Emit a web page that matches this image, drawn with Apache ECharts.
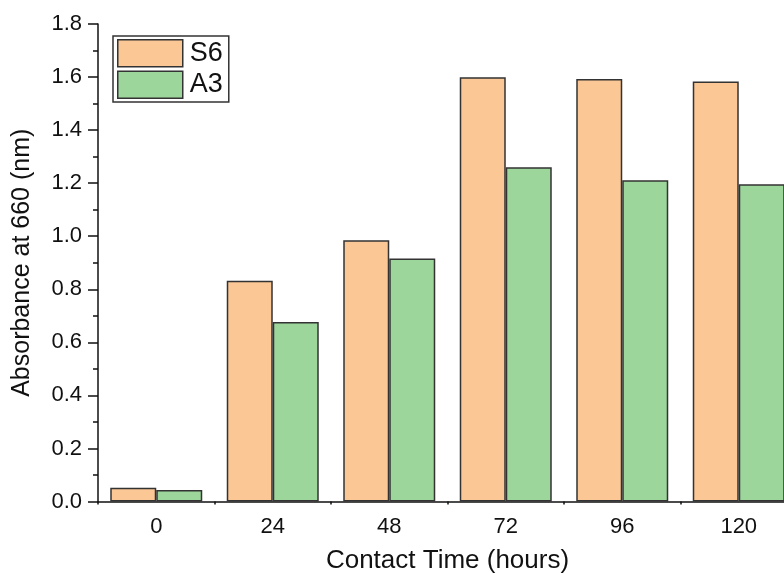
<!DOCTYPE html>
<html><head><meta charset="utf-8">
<script src="https://cdn.jsdelivr.net/npm/echarts@6/dist/echarts.min.js"></script>
<style>html,body{margin:0;padding:0;background:#fff}#c{width:784px;height:573px}</style>
</head><body><div id="c"></div>
<script>
var categories = ['0', '24', '48', '72', '96', '120'];
var s6Values = [0.052, 0.832, 0.985, 1.599, 1.593, 1.583];
var a3Values = [0.043, 0.677, 0.916, 1.260, 1.211, 1.196];
var yTicks = [0, 1.8, 0.2];

var font = 'Liberation Sans, Arial, sans-serif';
var chart = echarts.init(document.getElementById('c'));
chart.setOption({
  animation: false,
  backgroundColor: '#fff',
  grid: { left: 98, top: 24, height: 477.5, width: 699, containLabel: false, outerBoundsMode: 'none' },
  legend: {
    left: 113, top: 36, orient: 'vertical',
    icon: 'rect',
    itemWidth: 65, itemHeight: 27, itemGap: 3,
    padding: [3, 6, 3, 4],
    borderColor: '#333', borderWidth: 1.5,
    itemStyle: { borderColor: '#333', borderWidth: 1.5 },
    textStyle: { fontFamily: font, fontSize: 27, color: '#111', padding: [0, 0, 0, 2] },
    data: ['S6', 'A3']
  },
  xAxis: [{
    type: 'category', data: categories,
    name: 'Contact Time (hours)', nameLocation: 'middle', nameGap: 46,
    nameTextStyle: { fontFamily: font, fontSize: 26, color: '#111' },
    axisLine: { lineStyle: { color: '#111', width: 1.5 } },
    axisTick: { alignWithLabel: true, length: 8, lineStyle: { color: '#111', width: 1.5 } },
    axisLabel: { fontFamily: font, fontSize: 22, color: '#111', margin: 14 },
    splitLine: { show: false }
  }, {
    type: 'category', data: categories, position: 'bottom',
    axisLine: { show: false },
    axisTick: { show: true, length: 3, lineStyle: { color: '#111', width: 1.5 } },
    axisLabel: { show: false },
    splitLine: { show: false }
  }],
  yAxis: {
    type: 'value', min: yTicks[0], max: yTicks[1], interval: yTicks[2],
    name: 'Absorbance at 660 (nm)', nameLocation: 'middle', nameGap: 63,
    nameTextStyle: { fontFamily: font, fontSize: 25, color: '#111' },
    axisLine: { show: true, lineStyle: { color: '#111', width: 1.5 } },
    axisTick: { show: true, length: 10, lineStyle: { color: '#111', width: 1.5 } },
    minorTick: { show: true, splitNumber: 2, length: 5, lineStyle: { color: '#111', width: 1.5 } },
    axisLabel: { fontFamily: font, fontSize: 22, color: '#111', margin: 16,
      formatter: function (v) { return v.toFixed(1); } },
    splitLine: { show: false }
  },
  series: [{
    name: 'S6', type: 'bar', data: s6Values, barWidth: 46, barGap: '0%',
    itemStyle: { color: '#FBC794', borderColor: '#333', borderWidth: 1.5 }
  }, {
    name: 'A3', type: 'bar', data: a3Values, barWidth: 46, barGap: '0%',
    itemStyle: { color: '#9DD69A', borderColor: '#333', borderWidth: 1.5 }
  }]
});
</script></body></html>
